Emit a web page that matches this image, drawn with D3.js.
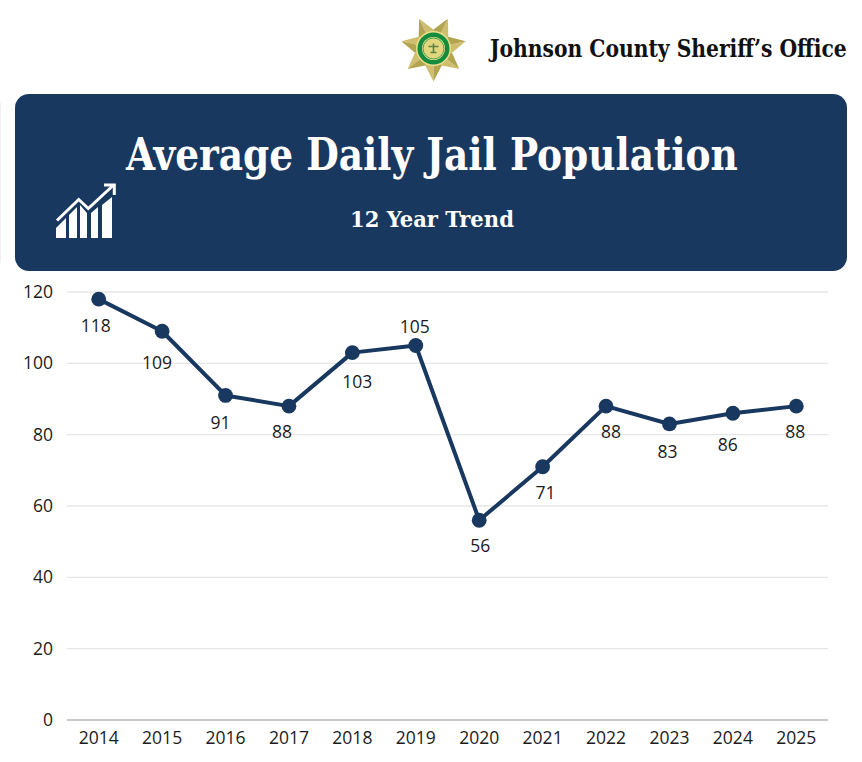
<!DOCTYPE html>
<html>
<head>
<meta charset="utf-8">
<script src="https://cdn.jsdelivr.net/npm/d3@7"></script>
<style>
html,body{margin:0;padding:0;background:#fff}
svg{display:block}
</style>
</head>
<body>
<div id="chart"></div>
<script>
// Annual average daily jail population
const years = ["2014","2015","2016","2017","2018","2019","2020","2021","2022","2023","2024","2025"];
const population = [118,109,91,88,103,105,56,71,88,83,86,88];
const yTicks = [0,20,40,60,80,100,120];

const agency = "Johnson County Sheriff\u2019s Office";
const title = "Average Daily Jail Population";
const subtitle = "12 Year Trend";

const navy = "#19385f";
const serif = "'DejaVu Serif Condensed','DejaVu Serif',serif";
const sans = "'Open Sans','Noto Sans',sans-serif";

const width = 862, height = 762;
const svg = d3.select("#chart").append("svg").attr("width",width).attr("height",height);

const defs = svg.append("defs");
defs.append("filter").attr("id","soft").append("feGaussianBlur").attr("stdDeviation",0.45);

const x = d3.scaleBand().domain(years).range([67,828]);
const y = d3.scaleLinear().domain([0,120]).range([720,292]);
const cx = d => x(d)+x.bandwidth()/2;

// Label placement relative to each marker, hand-tuned to keep labels off the line
const labelOffset = {
  "2014":[-3,27],"2015":[-5,32],"2016":[-5,27],"2017":[-7,26],"2018":[5,29],"2019":[-1,-19],
  "2020":[1,26],"2021":[3,26],"2022":[5,26],"2023":[-2,28],"2024":[-5,32],"2025":[-1,26]
};

// Serif heading squeezed horizontally so it spans a set width from its left edge
function heading(text, left, baseline, size, span, fill) {
  const node = svg.append("text")
    .attr("font-family",serif).attr("font-weight",700).attr("font-size",size).attr("fill",fill)
    .text(text);
  const natural = node.node().getComputedTextLength();
  node.attr("transform",`translate(${left},${baseline}) scale(${span/natural},1)`);
}

// Faint sliver along the left edge beside the banner
svg.append("rect").attr("x",0).attr("y",103).attr("width",1).attr("height",160).attr("fill","#eef1f4");

// Gridlines and baseline
svg.append("g").selectAll("line").data(yTicks).join("line")
  .attr("x1",67).attr("x2",828)
  .attr("y1",d=>y(d)).attr("y2",d=>y(d))
  .attr("stroke",d=>d===0?"#c9c9c9":"#e6e6e6")
  .attr("stroke-width",d=>d===0?1.8:1.4);

// Value axis
svg.append("g").selectAll("text").data(yTicks).join("text")
  .attr("x",53).attr("y",d=>y(d)).attr("dy","0.35em")
  .attr("text-anchor","end")
  .attr("font-family",sans).attr("font-size",17.5).attr("fill","#1c1c1c")
  .text(d=>d);

// Year axis
svg.append("g").selectAll("text").data(years).join("text")
  .attr("x",cx).attr("y",744)
  .attr("text-anchor","middle")
  .attr("font-family",sans).attr("font-size",17.5).attr("fill","#1c1c1c")
  .text(d=>d);

// Trend line and markers
const line = d3.line().x((d,i)=>cx(years[i])).y(d=>y(d));
svg.append("path").datum(population)
  .attr("d",line).attr("fill","none")
  .attr("stroke",navy).attr("stroke-width",4).attr("stroke-linejoin","round");
svg.append("g").selectAll("circle").data(population).join("circle")
  .attr("cx",(d,i)=>cx(years[i])).attr("cy",d=>y(d)).attr("r",7.4).attr("fill",navy);

// Value labels
svg.append("g").selectAll("text").data(population).join("text")
  .attr("x",(d,i)=>cx(years[i])+labelOffset[years[i]][0])
  .attr("y",(d,i)=>y(d)+labelOffset[years[i]][1])
  .attr("dy","0.35em")
  .attr("text-anchor","middle")
  .attr("font-family",sans).attr("font-size",17.5).attr("fill","#1c1c1c")
  .text(d=>d);

// Title banner
svg.append("rect").attr("x",15).attr("y",94).attr("width",832).attr("height",177).attr("rx",14).attr("fill",navy);
heading(title, 126, 170, 44, 612, "#fff");
heading(subtitle, 350, 227, 23, 164, "#fff");

// Agency name
heading(agency, 490, 57, 24, 357, "#111");

// Trend icon: five slanted bars under an upward arrow
const icon = svg.append("g");
const iconBars = [
  "M56,238V228L66,218V238Z",
  "M69,238V215L77,207V238Z",
  "M80,238V205L87,213V238Z",
  "M91,238V213L98,207V238Z",
  "M102,238V205L112,197V238Z"
];
icon.selectAll("path.bar").data(iconBars).join("path").attr("class","bar")
  .attr("d",d=>d).attr("fill","#fcfcfc");
icon.append("path").attr("d","M57,220.5L78.7,199.5L88.3,208.5L112.5,186")
  .attr("fill","none").attr("stroke","#fff").attr("stroke-width",3);
icon.append("path").attr("d","M104,185H114.3V195")
  .attr("fill","none").attr("stroke","#fff").attr("stroke-width",3);

// Badge: seven-pointed gold star with a green seal
const badge = svg.append("g").attr("transform","translate(433.5,48.5)").attr("filter","url(#soft)");
const n = 7, outer = 33, inner = 19;
const polar = (r,a)=>[r*Math.sin(a), r*Math.cos(a)];
d3.range(n).forEach(k=>{
  const a = k*2*Math.PI/n;
  const tip = polar(outer,a), l = polar(inner,a-Math.PI/n), r = polar(inner,a+Math.PI/n);
  badge.append("path").attr("d",`M0,0L${l}L${tip}Z`).attr("fill","#cfbe6e");
  badge.append("path").attr("d",`M0,0L${r}L${tip}Z`).attr("fill","#b3a450");
});
badge.append("circle").attr("r",17.5).attr("fill","#eadf8a");
badge.append("circle").attr("r",16).attr("fill","#128a3e");
badge.append("circle").attr("r",11.5).attr("fill","#f1e98f");
badge.append("circle").attr("r",10.5).attr("fill","#e2d77c").attr("stroke","#1e8f47").attr("stroke-width",0.8);
badge.append("path").attr("d","M-5,-2H5M0,-5V4M-3,4H3").attr("stroke","#5f7f45").attr("stroke-width",1.6).attr("fill","none");
</script>
</body>
</html>
